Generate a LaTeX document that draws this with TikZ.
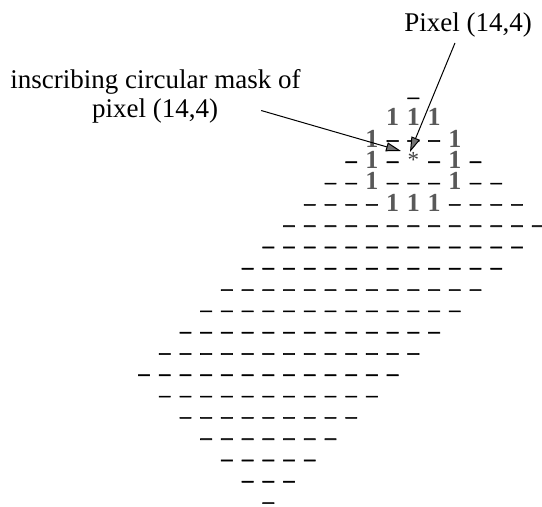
\documentclass[tikz,border=0pt]{standalone}
\usepackage{fontspec}
\setmainfont{Liberation Serif}
\newfontfamily\dashfont[FakeBold=2.5]{Liberation Serif}
\usetikzlibrary{arrows.meta}
% cells that hold something other than a dash
\makeatletter
\@for\sp:={1-12,1-13,1-14,2-11,2-15,3-11,3-13,3-15,4-11,4-15,5-12,5-13,5-14}\do{%
  \expandafter\gdef\csname sp-\sp\endcsname{}}
\makeatother
\begin{document}
\begin{tikzpicture}[x=1pt,y=-1pt,
  lbl/.style={inner sep=0pt, anchor=base, font=\fontsize{27}{29}\selectfont},
  dashcell/.style={inner sep=0pt, anchor=base, font=\dashfont\fontsize{22}{22}\selectfont},
  onecell/.style={inner sep=0pt, anchor=base, text=black!65, font=\fontsize{26}{26}\selectfont\bfseries},
  starcell/.style={inner sep=0pt, anchor=base, text=black!75, font=\fontsize{23}{23}\selectfont},
  ptr/.style={line width=1pt, -{Triangle[length=15pt,width=9pt,fill=black!55]}},
]
\useasboundingbox (0,0) rectangle (542,507);
% grid of dashes
\foreach \r in {0,...,19}{
  \pgfmathtruncatemacro\a{abs(13-\r)}
  \pgfmathtruncatemacro\b{min(13+\r,25-\r)}
  \foreach \c in {\a,...,\b}{
    \ifcsname sp-\r-\c\endcsname\else
      \node[dashcell] (g-\r-\c) at ({144+20.72*\c},{103.5+21.3*\r}) {–};
    \fi
  }
}
% the circular mask
\foreach \r/\c in {1/12,1/13,1/14,2/11,2/15,3/11,3/15,4/11,4/15,5/12,5/13,5/14}{
  \node[onecell] (g-\r-\c) at ({144+20.72*\c},{104.5+21.3*\r}) {1};
}
\node[starcell] (g-3-13) at ({144+20.72*13},{104+21.3*3}) {*};
% labels
\node[lbl] (mask) at (155.5,88) {inscribing circular mask of};
\node[lbl] (maskb) at (155,117) {pixel (14,4)};
\node[lbl] (pix) at (468,31) {Pixel (14,4)};
% pointers
\coordinate (tipmask) at (401,151);
\coordinate (tippix) at (410,152);
\draw[ptr] ([xshift=43pt]maskb.east) -- (tipmask);
\draw[ptr] ([shift={(-13,6)}]pix.south) -- (tippix);
\end{tikzpicture}
\end{document}
